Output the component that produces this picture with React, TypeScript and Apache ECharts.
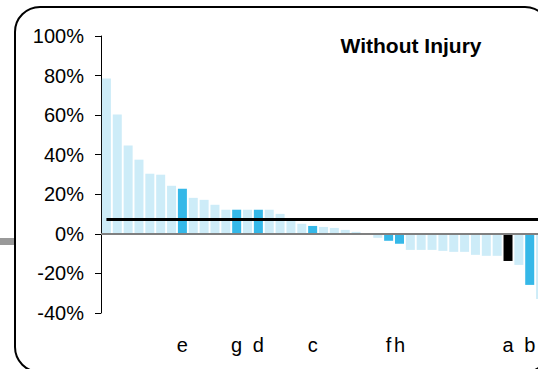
import React, { useEffect, useRef } from "react";
import * as echarts from "echarts";

const categories: string[] = [
  "", "", "", "", "", "", "", "e", "", "", "", "", "g", "", "d", "", "", "", "", "c",
  "", "", "", "", "", "", "f", "h", "", "", "", "", "", "", "", "", "", "a", "", "b", "",
];

const values: number[] = [
  78.5, 60.3, 44.6, 37.5, 30.4, 29.9, 24.3, 22.8, 18.2, 17.2, 14.7, 12.2, 12.2, 12.2, 12.2,
  12.2, 10.1, 7.2, 5.1, 4.0, 3.5, 3.0, 2.0, 1.0, 0.0, -2.0, -3.5, -5.0, -8.1, -8.1, -8.1,
  -8.6, -9.1, -9.1, -10.6, -11.1, -11.1, -13.7, -15.7, -25.8, -32.9,
];

const highlightBlue: number[] = [7, 12, 14, 19, 26, 27, 39];
const highlightBlack: number[] = [37];

const averageLevel = 7.2;

const yTicks = { min: -40, max: 100, interval: 20 };

const titleText = "Without Injury";

const LIGHT = "#cdecf8";
const BLUE = "#35b8e8";
const BLACK = "#000000";

export default function App() {
  const ref = useRef<HTMLDivElement>(null);

  useEffect(() => {
    if (!ref.current) return;
    const chart = echarts.init(ref.current, null, { renderer: "svg" });
    const barData = values.map((v, i) => ({
      value: v,
      itemStyle: {
        color: highlightBlack.includes(i) ? BLACK : highlightBlue.includes(i) ? BLUE : LIGHT,
      },
    }));
    chart.setOption({
      animation: false,
      grid: { left: 101, top: 36, width: 445, height: 277, containLabel: false },
      xAxis: {
        type: "category",
        data: categories,
        axisLine: { show: false },
        axisTick: { show: false },
        axisLabel: {
          interval: 0,
          margin: 22,
          color: "#000",
          fontSize: 20,
          fontFamily: "Liberation Sans, Arial, sans-serif",
        },
        splitLine: { show: false },
      },
      yAxis: {
        type: "value",
        min: yTicks.min,
        max: yTicks.max,
        interval: yTicks.interval,
        axisLine: { show: true, lineStyle: { color: "#000", width: 1 } },
        axisTick: { show: true, length: 6, lineStyle: { color: "#000", width: 1 } },
        splitLine: { show: false },
        axisLabel: {
          formatter: "{value}%",
          margin: 17,
          color: "#000",
          fontSize: 20,
          fontFamily: "Liberation Sans, Arial, sans-serif",
        },
      },
      series: [
        {
          type: "bar",
          data: barData,
          barWidth: 9,
          markLine: {
            silent: true,
            symbol: "none",
            label: { show: false },
            lineStyle: { color: "#808080", width: 2, type: "solid" },
            data: [{ yAxis: 0 }],
          },
        },
        {
          type: "line",
          data: values.map(() => averageLevel),
          symbol: "none",
          lineStyle: { color: "#000", width: 3 },
          z: 5,
        },
      ],
      graphic: [
        {
          type: "rect",
          shape: { x: 15, y: 7, width: 535, height: 365, r: 25 },
          style: { fill: "none", stroke: "#000", lineWidth: 2 },
          silent: true,
        },
        {
          type: "rect",
          shape: { x: 0, y: 238, width: 14, height: 7 },
          style: { fill: "#999999" },
          silent: true,
        },
        {
          type: "text",
          x: 411,
          y: 45,
          style: {
            text: titleText,
            fill: "#000",
            font: "bold 21px 'Liberation Sans', Arial, sans-serif",
            textAlign: "center",
            textVerticalAlign: "middle",
          },
        },
      ],
    });
    return () => chart.dispose();
  }, []);

  return (
    <div
      ref={ref}
      style={{ position: "fixed", left: 0, top: 0, width: 560, height: 380, background: "#fff" }}
    />
  );
}
